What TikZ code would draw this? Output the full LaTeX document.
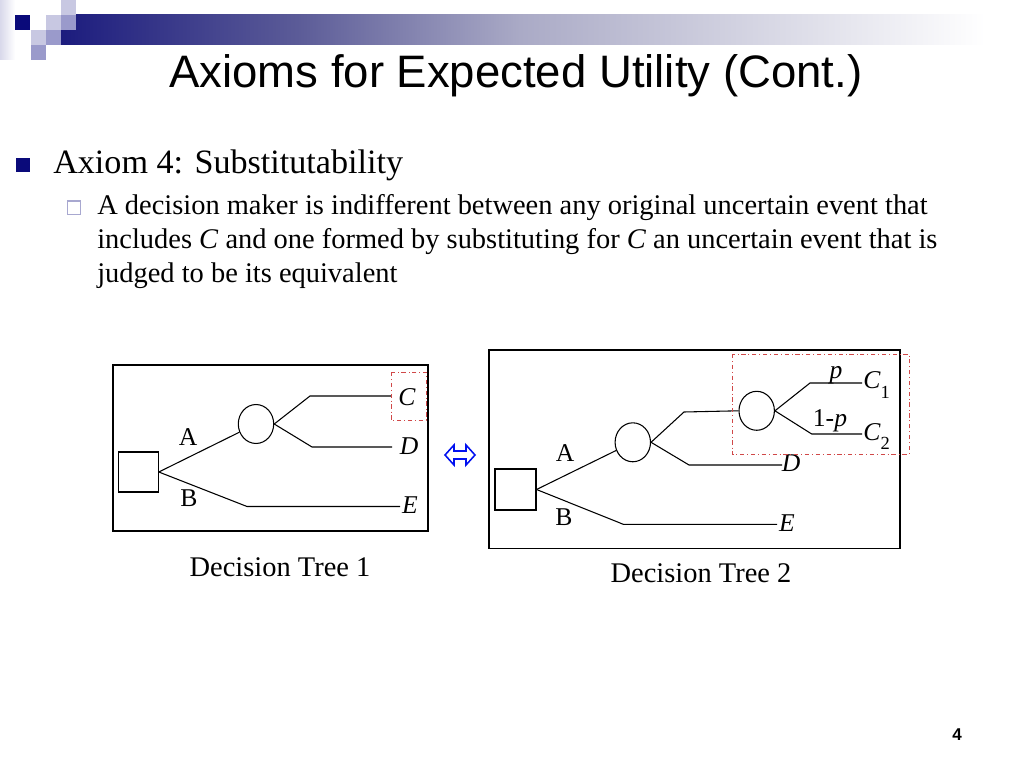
\documentclass[tikz,border=0pt]{standalone}
\usepackage{fontspec}
\setmainfont{Liberation Serif}
\newfontfamily\arialf{Liberation Sans}
\usetikzlibrary{shapes.geometric}
\definecolor{navy}{HTML}{1C1C7E}
\definecolor{darksq}{HTML}{0A0A7A}
\definecolor{lightsq}{HTML}{C8C8E2}
\definecolor{medsq}{HTML}{9A9ACB}
\definecolor{barmid}{HTML}{5C5C98}
\definecolor{barlight}{HTML}{AAAAC6}
\definecolor{boxred}{HTML}{D04848}
\definecolor{subbul}{HTML}{A8A8D0}
\definecolor{arrblue}{HTML}{0010F0}
\begin{document}
\begin{tikzpicture}[x=0.703125pt,y=-0.703125pt,
  line/.style={line width=0.75pt, draw=black},
  frame/.style={line width=0.8pt, draw=black},
  redbox/.style={draw=boxred, line width=0.6pt, dash dot},
  chance/.style={draw, ellipse, line width=0.75pt, inner sep=0pt, minimum width=24.9pt, minimum height=27.4pt},
  decsq/.style={draw, rectangle, line width=0.75pt, inner sep=0pt},
  lab/.style={font=\fontsize{18}{18}\selectfont, inner sep=0pt, anchor=base},
  caption/.style={font=\fontsize{20}{24}\selectfont, inner sep=0pt, anchor=base},
  bodytxt/.style={font=\fontsize{20}{24}\selectfont, inner sep=0pt, anchor=base west}]
\useasboundingbox (0,0) rectangle (1024,768);
\fill[white] (0,0) rectangle (1024,768);
% header decoration
\shade[left color=lightsq!70, right color=white] (0,0) rectangle (15,60);
\shade[left color=navy, right color=barmid] (61,15) rectangle (300,45);
\shade[left color=barmid, right color=barlight] (299.5,15) rectangle (520,45);
\shade[left color=barlight, right color=white] (519.5,15) rectangle (985,45);
\fill[darksq] (15,15) rectangle (30,30);
\fill[lightsq] (46,15) rectangle (61,30);
\fill[medsq] (61,15) rectangle (76,30);
\fill[lightsq] (61,0) rectangle (76,15);
\fill[lightsq] (31,30) rectangle (46,45);
\fill[medsq] (46,30) rectangle (61,45);
\fill[medsq] (31,45) rectangle (46,60);
% title
\node[font=\arialf\fontsize{32}{38}\selectfont, inner sep=0pt, anchor=base west] (title) at (169,88) {Axioms for Expected Utility (Cont.)};
% bullets
\fill[darksq] (16,158) rectangle (30,172);
\node[font=\fontsize{24}{29}\selectfont, inner sep=0pt, anchor=base west] (ax) at (53,173.3) {Axiom 4: Substitutability};
\draw[subbul, line width=1.1pt, fill=white] (67.5,201) rectangle (80.5,214.5);
\node[bodytxt] (l1) at (97,214.7) {A decision maker is indifferent between any original uncertain event that};
\node[bodytxt] (l2) at (97,248.7) {includes \textit{C} and one formed by substituting for \textit{C} an uncertain event that is};
\node[bodytxt] (l3) at (97,282.7) {judged to be its equivalent};
% ---------- Tree 1 ----------
\draw[frame] (113,365) rectangle (428,531);
\node[decsq, minimum size=28.1pt] (s1) at (138.3,472) {};
\node[chance] (c1) at (256,424) {};
\coordinate (t1a) at (310,396); \coordinate (t1ae) at (391,396);
\coordinate (t1b) at (312,447); \coordinate (t1be) at (392,447);
\coordinate (t1c) at (247,506.5); \coordinate (t1ce) at (400,506.5);
\draw[line] (s1.east) -- (c1);
\draw[line] (c1.east) -- (t1a) -- (t1ae);
\draw[line] (c1.east) -- (t1b) -- (t1be);
\draw[line] (s1.east) -- (t1c) -- (t1ce);
\node[lab] (A1) at (188,445) {A};
\node[lab] (B1) at (189,506.5) {B};
\node[lab] (C1) at (407,405) {\textit{C}};
\node[lab] (D1) at (409,454) {\textit{D}};
\node[lab] (E1) at (410,513) {\textit{E}};
\draw[redbox] (391,372) rectangle (426,420);
\node[caption] (cap1) at (280,576) {Decision Tree 1};
% double arrow
\draw[arrblue, line width=1.1pt, fill=white, line join=miter]
  (445,455) -- (454,445) -- (454,451) -- (466,451) -- (466,445) -- (475,455)
  -- (466,465) -- (466,459) -- (454,459) -- (454,465) -- cycle;
% ---------- Tree 2 ----------
\draw[frame] (489,350) rectangle (900,548.5);
\node[decsq, minimum size=28.8pt] (s2) at (515.5,489.5) {};
\node[chance] (c2a) at (632.8,442.3) {};
\node[chance] (c2b) at (756.7,410.8) {};
\coordinate (t2a) at (684,412);
\coordinate (t2b) at (810,383); \coordinate (t2be) at (862,383);
\coordinate (t2c) at (811.7,434); \coordinate (t2ce) at (862,434);
\coordinate (t2d) at (689,465); \coordinate (t2de) at (782,465);
\coordinate (t2e) at (623.3,524.3); \coordinate (t2ee) at (777,524.3);
\draw[line] (s2.east) -- (c2a);
\draw[line] (c2a.east) -- (t2a) -- (c2b.west);
\draw[line] (c2b.east) -- (t2b) -- (t2be);
\draw[line] (c2b.east) -- (t2c) -- (t2ce);
\draw[line] (c2a.east) -- (t2d) -- (t2de);
\draw[line] (s2.east) -- (t2e) -- (t2ee);
\node[lab] (A2) at (565,461) {A};
\node[lab] (B2) at (564,525) {B};
\node[lab] (D2) at (791,471.7) {\textit{D}};
\node[lab] (E2) at (787,531) {\textit{E}};
\node[lab, anchor=base west] (Ca) at (863,388.3) {\textit{C}\raisebox{-7pt}{\fontsize{13}{13}\selectfont 1}};
\node[lab, anchor=base west] (Cb) at (863,440) {\textit{C}\raisebox{-7pt}{\fontsize{13}{13}\selectfont 2}};
\node[lab] (p1) at (836,378) {\textit{p}};
\node[lab] (p2) at (830,426.7) {1-\textit{p}};
\draw[redbox] (732,354) rectangle (909,454);
\node[caption] (cap2) at (701,582) {Decision Tree 2};
% page number
\node[font=\arialf\bfseries\fontsize{12}{14}\selectfont, inner sep=0pt, anchor=base] (pg) at (957,740) {4};
\end{tikzpicture}
\end{document}
